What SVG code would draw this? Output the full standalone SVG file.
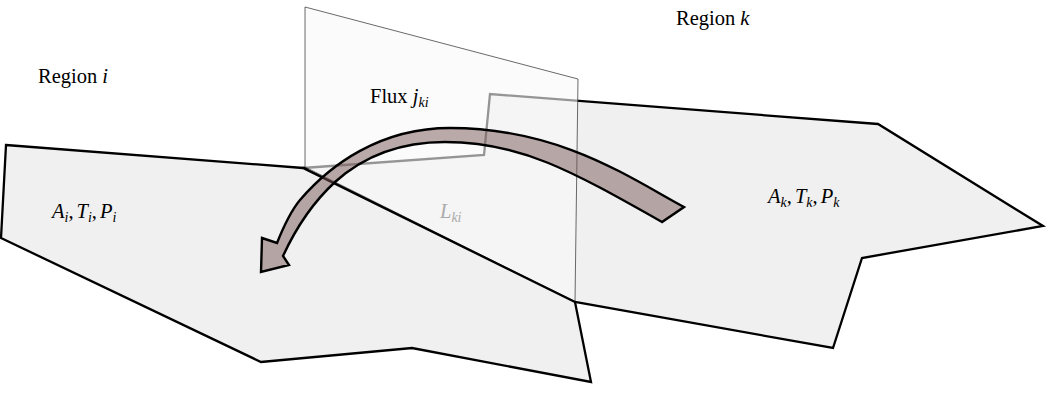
<svg xmlns="http://www.w3.org/2000/svg" width="1063" height="402" viewBox="0 0 1063 402">
<style>
.region{fill:#f0f0f0;stroke:#000;stroke-width:2.3;stroke-linejoin:miter}
.plane{fill:#f8f8f8;fill-opacity:0.6;stroke:#444;stroke-width:0.8}
.lbl{font-family:"Liberation Serif","DejaVu Serif",serif;font-size:20.5px;fill:#000}
.m{font-style:italic}
.s{font-style:italic;font-size:14px}
.arrow{fill:#7a5858;fill-opacity:0.5;stroke:#000;stroke-width:2.4;stroke-linejoin:miter}
</style>
<rect width="1063" height="402" fill="#fff"/>
<g id="region-k">
<polygon class="region" points="303,168 484,155 490,94 878,124 1043,226 862,258 833,348 575,302"/>
</g>
<g id="plane">
<polygon class="plane" points="305,7 578,79 575,302 305,167"/>
</g>
<g id="region-i">
<polygon class="region" points="6,145 303,168 575,302 591,382 412,348 261,362 1,238"/>
</g>
<g id="connectors">
<path class="arrow" d="M684,207 C630,178 560,128 450,128 C380,128 330,165 300,200 C290,212 283,228 277,243 L262,238 L261,272 L289,265 L283,256 C295,230 310,205 335,182 C365,155 400,142 445,142 C520,142 570,170 662,222 Z"/>
</g>
<g id="labels">
<text class="lbl" x="38" y="83">Region <tspan class="m">i</tspan></text>
<text class="lbl" x="676" y="25">Region <tspan class="m">k</tspan></text>
<text class="lbl" x="370" y="103">Flux <tspan class="m">j</tspan><tspan class="s" dy="4">ki</tspan></text>
<text class="lbl" x="52" y="218"><tspan class="m">A</tspan><tspan class="s" dy="4">i</tspan><tspan dy="-4">,</tspan><tspan class="m" dx="3">T</tspan><tspan class="s" dy="4">i</tspan><tspan dy="-4">,</tspan><tspan class="m" dx="3">P</tspan><tspan class="s" dy="4">i</tspan></text>
<text class="lbl" x="440" y="218" style="fill:#aaa"><tspan class="m">L</tspan><tspan class="s" dy="4">ki</tspan></text>
<text class="lbl" x="768" y="203"><tspan class="m">A</tspan><tspan class="s" dy="4">k</tspan><tspan dy="-4">,</tspan><tspan class="m" dx="3">T</tspan><tspan class="s" dy="4">k</tspan><tspan dy="-4">,</tspan><tspan class="m" dx="3">P</tspan><tspan class="s" dy="4">k</tspan></text>
</g>
</svg>
